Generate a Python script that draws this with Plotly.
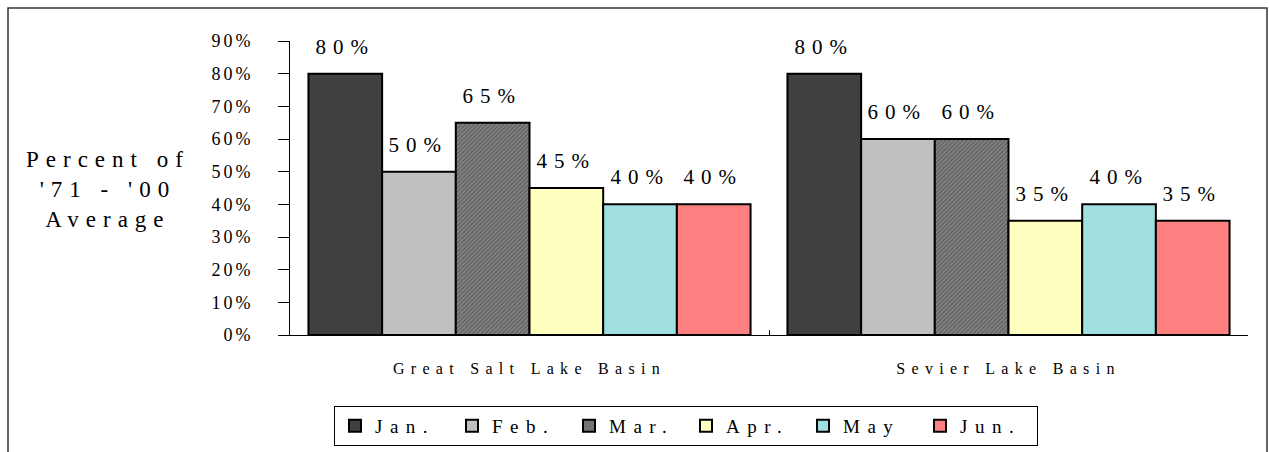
import plotly.graph_objects as go

# ---- data ----
basins = ["Great Salt Lake Basin", "Sevier Lake Basin"]
months = ["Jan.", "Feb.", "Mar.", "Apr.", "May", "Jun."]
jan = [0.80, 0.80]
feb = [0.50, 0.60]
mar = [0.65, 0.60]
apr = [0.45, 0.35]
may = [0.40, 0.40]
jun = [0.40, 0.35]
series = [jan, feb, mar, apr, may, jun]
y_title = "Percent of<br>'71 - '00<br>Average"

# ---- styles ----
colors = ["#404040", "#c0c0c0", "#858585", "#ffffc0", "#a0e0e0", "#ff8080"]
patterns = ["", "", "/", "", "", ""]
FONT = "Liberation Serif"
W, H = 1269, 452
L, R, T, B = 290, 21, 41, 117
BARGAP = 0.077
PW, PH = W - L - R, H - T - B


def px_x(px):
    return (px - L) / PW


def px_y(py):
    return (H - B - py) / PH


fig = go.Figure()
for name, vals, col, pat in zip(months, series, colors, patterns):
    marker = dict(color=col, line=dict(color="black", width=2))
    if pat:
        marker["pattern"] = dict(shape=pat, size=3, solidity=0.45, fgcolor="#3a3a3a")
    fig.add_trace(go.Bar(name=name, x=basins, y=vals, marker=marker))

# data labels
catw = PW / len(basins)
barw = catw * (1 - BARGAP) / len(months)
annotations = []
for i, vals in enumerate(series):
    for b, v in zip(basins, vals):
        annotations.append(dict(
            x=b, y=v, xref="x", yref="y", text=f"{round(v * 100)}%",
            showarrow=False, yanchor="bottom", xanchor="center",
            xshift=(i - (len(months) - 1) / 2) * barw, yshift=13,
            font=dict(family=FONT, size=21, color="black")))

annotations.append(dict(
    x=px_x(108), y=px_y(189), xref="paper", yref="paper", text=y_title,
    showarrow=False, xanchor="center", yanchor="middle", align="center",
    font=dict(family=FONT, size=23, color="black")))

fig.update_layout(
    width=W, height=H,
    margin=dict(l=L, r=R, t=T, b=B, autoexpand=False),
    paper_bgcolor="white", plot_bgcolor="white",
    barmode="group", bargap=BARGAP, bargroupgap=0,
    font=dict(family=FONT, color="black"),
    showlegend=True,
    legend=dict(orientation="h", x=px_x(686), y=px_y(426), xanchor="center",
                yanchor="middle", bordercolor="black", borderwidth=1,
                font=dict(family=FONT, size=19, color="black"),
                entrywidth=72, entrywidthmode="pixels",
                bgcolor="white", traceorder="normal"),
    annotations=annotations,
    shapes=[dict(type="rect", xref="paper", yref="paper",
                 x0=px_x(8), x1=px_x(1267), y0=px_y(470), y1=px_y(8),
                 line=dict(color="#333333", width=1.5), layer="below")],
)
fig.update_xaxes(
    showline=True, linecolor="black", linewidth=1,
    ticks="inside", tickson="boundaries", ticklen=5, tickcolor="black",
    tickfont=dict(family=FONT, size=16, color="black"),
    ticklabelstandoff=19, showgrid=False)
fig.update_yaxes(
    range=[0, 0.9], dtick=0.1, tickformat=".0%",
    showline=True, linecolor="black", linewidth=1,
    ticks="outside", ticklen=11, tickcolor="black",
    tickfont=dict(family=FONT, size=18, color="black"),
    ticklabelstandoff=21, showgrid=False, zeroline=False)

post = """
var st = document.createElement('style');
st.textContent =
 'svg text{font-family:"Liberation Serif","DejaVu Serif",serif !important}' +
 '.ytick text{letter-spacing:3px}' +
 '.xtick text{letter-spacing:6.3px}' +
 '.annotation-text{letter-spacing:7px}' +
 '.legendtext{letter-spacing:7.5px}';
document.head.appendChild(st);
"""

fig.write_html("out.html", config={"displayModeBar": False}, post_script=post)
